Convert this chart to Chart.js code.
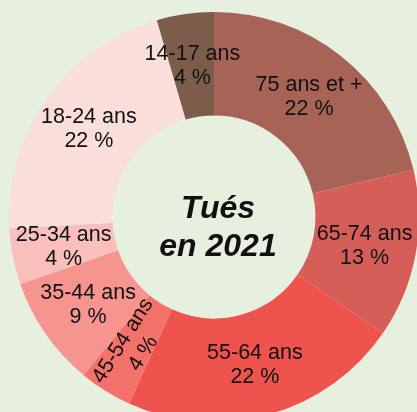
<!DOCTYPE html>
<html lang="fr">
<head>
<meta charset="utf-8">
<title>Tués en 2021</title>
<script src="https://cdn.jsdelivr.net/npm/chart.js@4/dist/chart.umd.min.js"></script>
<style>
  html, body { margin: 0; padding: 0; width: 417px; height: 412px; overflow: hidden; background: #E7EFDF; }
  #wrap { position: absolute; left: 0; top: 0; width: 428px; height: 435px; }
</style>
</head>
<body>
<div id="wrap"><canvas id="tuesChart"></canvas></div>
<script>
/* Tués en 2021 — répartition par âge */

const ageGroups = ['75 ans et +', '65-74 ans', '55-64 ans', '45-54 ans', '35-44 ans', '25-34 ans', '18-24 ans', '14-17 ans'];
const shares = [21.3, 13.3, 22.2, 4.2, 8.7, 4.4, 21.4, 4.5];
const shareLabels = ['22 %', '13 %', '22 %', '4 %', '9 %', '4 %', '22 %', '4 %'];
const centerTitle = ['Tués', 'en 2021'];

const sliceColors = ['#A66356', '#D55E59', '#EF534D', '#F3716B', '#F6948F', '#F9BFBA', '#FADEDA', '#7B5D4A'];
const rotatedGroups = ['45-54 ans'];
const labelFont = "21.5px 'Liberation Sans', Arial, sans-serif";
const titleFont = "italic bold 32px 'Liberation Sans', Arial, sans-serif";

// labels drawn inside each slice + title in the hole
const sliceLabels = {
  id: 'sliceLabels',
  afterDatasetsDraw(chart) {
    const ctx = chart.ctx;
    const meta = chart.getDatasetMeta(0);
    ctx.save();
    ctx.fillStyle = '#111';
    ctx.font = labelFont;
    ctx.textAlign = 'center';
    ctx.textBaseline = 'middle';
    meta.data.forEach((arc, i) => {
      const p = arc.getCenterPoint();
      const mid = (arc.startAngle + arc.endAngle) / 2;
      ctx.save();
      ctx.translate(p.x, p.y);
      if (rotatedGroups.includes(ageGroups[i])) ctx.rotate(mid - Math.PI);
      ctx.fillText(ageGroups[i], 0, -11.5);
      ctx.fillText(shareLabels[i], 0, 12.5);
      ctx.restore();
    });

    const c = meta.data[0];
    ctx.font = titleFont;
    ctx.fillText(centerTitle[0], c.x + 4, c.y - 8);
    ctx.fillText(centerTitle[1], c.x + 4, c.y + 30);
    ctx.restore();
  }
};

new Chart(document.getElementById('tuesChart'), {
  type: 'doughnut',
  data: {
    labels: ageGroups,
    datasets: [{
      data: shares,
      backgroundColor: sliceColors,
      borderWidth: 0,
      hoverOffset: 0,
    }]
  },
  options: {
    responsive: true,
    maintainAspectRatio: false,
    animation: false,
    cutout: '49.5%',
    layout: { padding: { left: 9, right: 9, top: 12, bottom: 13 } },
    plugins: {
      legend: { display: false },
      tooltip: { enabled: false }
    }
  },
  plugins: [sliceLabels]
});
</script>
</body>
</html>
